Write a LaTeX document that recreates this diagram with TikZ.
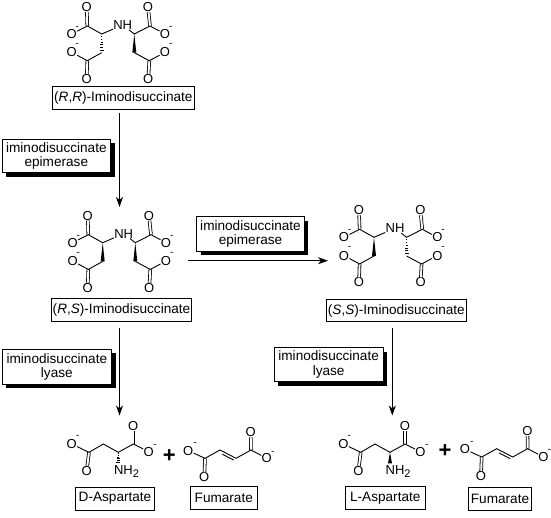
\documentclass[tikz,border=0pt]{standalone}
\usepackage{fontspec}
\setmainfont{Liberation Sans}
\usetikzlibrary{calc,arrows.meta,shadows}
\tikzset{
  atom/.style={inner sep=0.2pt,font=\fontsize{13}{13}\selectfont},
  chg/.style={inner sep=0pt,font=\fontsize{10}{10}\selectfont},
  bond/.style={line width=0.9pt},
  dbl/.style={double,line width=0.8pt,double distance=1.9pt},
  capnode/.style={draw,line width=1pt,fill=white,inner sep=0pt,outer sep=0pt,align=center,font=\fontsize{13.6}{14.5}\selectfont},
  enz/.style={capnode,drop shadow={shadow xshift=4pt,shadow yshift=-4pt,fill=black,opacity=1}},
  conn/.style={line width=0.9pt,-{Stealth[length=10pt,width=7pt,inset=3pt]}},
  plus/.style={inner sep=0pt,font=\fontsize{22}{22}\bfseries\selectfont}
}
\newcommand\wedgeb[2]{\fill (#1) -- ($(#2)+(-2,0)$) -- ($(#2)+(2,0)$) -- cycle;}
\newcommand\hashb[2]{\foreach \hh in {0.12,0.27,0.42,0.57,0.72,0.87}{\pgfmathsetmacro\hw{\hh*2.2}\draw[line width=0.7pt] ($(#1)!\hh!(#2)+(-\hw,0)$) -- ($(#1)!\hh!(#2)+(\hw,0)$);}}
% #1 prefix, #2 x, #3 y, #4 left stereo bond, #5 right stereo bond
\newcommand\iminomol[5]{%
\begin{scope}[shift={(#2,#3)}]
 \coordinate (#1cl) at (0,0);
 \coordinate (#1cr) at (32.6,0);
 \coordinate (#1ca) at (-14.4,-8);
 \coordinate (#1cb) at (48.3,-8);
 \coordinate (#1ll) at (0,18.7);
 \coordinate (#1lr) at (32.6,18.7);
 \coordinate (#1cc) at (-14.4,26.7);
 \coordinate (#1cd) at (47.6,26.7);
 \node[atom] (#1nh) at (21,-9) {NH};
 \node[atom] (#1o1) at (-15,-27) {O};
 \node[atom] (#1o2) at (-30,0) {O};
 \node[atom] (#1o3) at (46.3,-27) {O};
 \node[atom] (#1o4) at (63.3,0) {O};
 \node[atom] (#1o5) at (-30,18.3) {O};
 \node[atom] (#1o6) at (-15,45) {O};
 \node[atom] (#1o7) at (63.3,18.3) {O};
 \node[atom] (#1o8) at (46.6,45) {O};
 \node[chg] (#1m1) at (-24.5,-6) {-};
 \node[chg] (#1m2) at (69,-6) {-};
 \node[chg] (#1m3) at (-24.5,11) {-};
 \node[chg] (#1m4) at (69,11) {-};
 \draw[dbl] (#1ca) -- (#1o1);
 \draw[dbl] (#1cb) -- (#1o3);
 \draw[dbl] (#1cc) -- (#1o6);
 \draw[dbl] (#1cd) -- (#1o8);
 \draw[bond] (#1o2) -- (#1ca) -- (#1cl) -- (#1nh) -- (#1cr) -- (#1cb) -- (#1o4);
 \draw[bond] (#1o5) -- (#1cc) -- (#1ll);
 \draw[bond] (#1lr) -- (#1cd) -- (#1o7);
 #4{#1cl}{#1ll}
 #5{#1cr}{#1lr}
\end{scope}}
% #1 prefix, #2 x, #3 y of the alpha carbon, #4 stereo bond
\newcommand\aspmol[4]{%
\begin{scope}[shift={(#2,#3)}]
 \coordinate (#1ca) at (0,0);
 \coordinate (#1ch) at (-15,-8.3);
 \coordinate (#1c1) at (-29.3,0);
 \coordinate (#1c2) at (15,-8.3);
 \coordinate (#1nt) at (0,11);
 \node[atom] (#1o1) at (-46.6,-8.3) {O};
 \node[atom] (#1o2) at (-31.6,18.4) {O};
 \node[atom] (#1o3) at (15,-26.6) {O};
 \node[atom] (#1o4) at (30.4,-0.6) {O};
 \node[atom,anchor=west,inner sep=0pt] (#1nh) at (-4.5,19.4) {NH\raisebox{-2.5pt}{\fontsize{11}{11}\selectfont 2}};
 \node[chg] (#1m1) at (-40.6,-15) {-};
 \node[chg] (#1m2) at (36.7,-6.3) {-};
 \draw[dbl] (#1c1) -- (#1o2);
 \draw[dbl] (#1c2) -- (#1o3);
 \draw[bond] (#1o1) -- (#1c1) -- (#1ch) -- (#1ca) -- (#1c2) -- (#1o4);
 #4{#1ca}{#1nt}
\end{scope}}
% #1 prefix, #2 x, #3 y of first carboxyl carbon
\newcommand\fummol[3]{%
\begin{scope}[shift={(#2,#3)}]
 \coordinate (#1c1) at (0,0);
 \coordinate (#1c2) at (15,-8.3);
 \coordinate (#1c3) at (31,0);
 \coordinate (#1c4) at (46,-8.3);
 \node[atom] (#1o1) at (-16.7,-7.6) {O};
 \node[atom] (#1o2) at (-0.7,19) {O};
 \node[atom] (#1o3) at (45.7,-26) {O};
 \node[atom] (#1o4) at (61.7,0) {O};
 \node[chg] (#1m1) at (-10,-14.3) {-};
 \node[chg] (#1m2) at (67.7,-5.6) {-};
 \draw[dbl] (#1c1) -- (#1o2);
 \draw[dbl] (#1c4) -- (#1o3);
 \draw[bond] (#1o1) -- (#1c1) -- (#1c2) -- (#1c3) -- (#1c4) -- (#1o4);
 \draw[bond] ($(#1c2)!0.15!(#1c3)+(0,3)$) -- ($(#1c2)!0.85!(#1c3)+(0,3)$);
\end{scope}}
\newcommand\capbox[7][capnode]{%
 \pgfmathsetmacro\bw{#5-#3}\pgfmathsetmacro\bh{#6-#4}
 \pgfmathsetmacro\bx{(#3+#5)/2}\pgfmathsetmacro\by{(#4+#6)/2}
 \node[#1,minimum width=\bw pt,minimum height=\bh pt] (#2) at (\bx,\by) {#7};}
\begin{document}
\begin{tikzpicture}[x=1pt,y=-1pt]
\useasboundingbox[fill=white] (0,0) rectangle (551,517);

\iminomol{rr}{101.7}{34}{\hashb}{\wedgeb}
\iminomol{rs}{102.7}{242.7}{\wedgeb}{\wedgeb}
\iminomol{ss}{374}{237.3}{\wedgeb}{\hashb}

\aspmol{da}{118.3}{452.3}{\hashb}
\aspmol{la}{390}{452.3}{\wedgeb}
\fummol{fa}{205}{458.3}
\fummol{fb}{481.7}{457}

\node[plus] (p1) at (169.3,455.7) {+};
\node[plus] (p2) at (445,451) {+};

\capbox{rrc}{52.7}{86.7}{194}{109.3}{(\textit{R},\textit{R})-Iminodisuccinate}
\capbox{rsc}{51.7}{298.3}{191.3}{321.7}{(\textit{R},\textit{S})-Iminodisuccinate}
\capbox{ssc}{326.7}{299.3}{466}{321.7}{(\textit{S},\textit{S})-Iminodisuccinate}
\capbox{dac}{75.3}{487.3}{154.7}{510}{D-Aspartate}
\capbox{fac}{190.3}{486.7}{257.3}{509.3}{Fumarate}
\capbox{lac}{345.3}{486.7}{425.3}{509.3}{L-Aspartate}
\capbox{fbc}{468.3}{487.3}{531.7}{510}{Fumarate}

\capbox[enz]{e1}{2}{139}{110.7}{172.7}{iminodisuccinate\\epimerase}
\capbox[enz]{e2}{196.7}{216.7}{304.3}{251}{iminodisuccinate\\epimerase}
\capbox[enz]{e3}{2}{349.3}{111.7}{384.3}{iminodisuccinate\\lyase}
\capbox[enz]{e4}{274}{347.7}{383.3}{381.7}{iminodisuccinate\\lyase}

\coordinate (a1s) at (119.5,113);
\coordinate (a1e) at (119.5,207);
\coordinate (a2s) at (188,260.7);
\coordinate (a2e) at (328,260.7);
\coordinate (a3s) at (119.5,328);
\coordinate (a3e) at (119.5,415.5);
\coordinate (a4s) at (392.3,328);
\coordinate (a4e) at (392.3,415.5);
\draw[conn] (a1s) -- (a1e);
\draw[conn] (a2s) -- (a2e);
\draw[conn] (a3s) -- (a3e);
\draw[conn] (a4s) -- (a4e);
\end{tikzpicture}
\end{document}
